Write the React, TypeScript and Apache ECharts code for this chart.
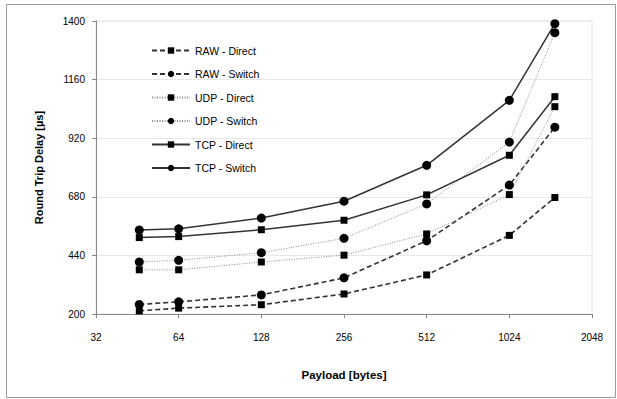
import React, { useEffect, useRef } from "react";
import * as echarts from "echarts";

const payloads = [46, 64, 128, 256, 512, 1024, 1500];
const rawDirect = [213, 224, 238, 282, 360, 522, 677];
const rawSwitch = [239, 250, 278, 348, 500, 728, 965];
const udpDirect = [381, 381, 413, 441, 528, 689, 1049];
const udpSwitch = [413, 420, 451, 510, 651, 904, 1352];
const tcpDirect = [513, 517, 545, 584, 688, 850, 1090];
const tcpSwitch = [544, 549, 593, 662, 809, 1075, 1389];

const seriesNames = [
  "RAW - Direct",
  "RAW - Switch",
  "UDP - Direct",
  "UDP - Switch",
  "TCP - Direct",
  "TCP - Switch",
];

export default function App() {
  const ref = useRef<HTMLDivElement>(null);
  useEffect(() => {
    if (!ref.current) return;
    const chart = echarts.init(ref.current, null, { renderer: "svg" });
    const pair = (ys: number[]) => payloads.map((x, i) => [x, ys[i]]);
    const dashed = { color: "#333", width: 1.6, type: [5, 3] as any };
    const dotted = { color: "#8a8a8a", width: 1, type: [1, 1.5] as any };
    const solid = { color: "#333", width: 1.5, type: "solid" as any };
    const mk = (name: string, ys: number[], ls: any, sym: string) => ({
      name,
      type: "line",
      data: pair(ys),
      symbol: sym,
      symbolSize: sym === "rect" ? 7 : 9,
      lineStyle: ls,
      itemStyle: { color: "#000", borderWidth: 0 },
      emphasis: { disabled: true },
      z: 3,
    });
    chart.setOption({
      animation: false,
      textStyle: { fontFamily: "Liberation Sans, Arial, sans-serif" },
      graphic: [
        {
          type: "rect",
          shape: { x: 6.5, y: 4.5, width: 609, height: 393 },
          style: { fill: "none", stroke: "#9a9a9a", lineWidth: 1 },
          silent: true,
        },
      ],
      grid: {
        left: 96,
        right: 25,
        top: 21,
        bottom: 85,
        show: true,
        borderColor: "#e4e4e4",
        borderWidth: 1,
        outerBoundsMode: "none",
      },
      legend: {
        orient: "vertical",
        left: 146,
        top: 39,
        itemWidth: 38,
        itemHeight: 8,
        itemGap: 10.5,
        itemTextGap: 7,
        textStyle: { fontSize: 10.5, color: "#000", lineHeight: 13 },
        data: seriesNames,
      },
      xAxis: {
        type: "log",
        logBase: 2,
        min: 32,
        max: 2048,
        splitNumber: 6,
        name: "Payload [bytes]",
        nameLocation: "middle",
        nameGap: 55,
        nameTextStyle: { fontWeight: "bold", fontSize: 11.5, color: "#000" },
        axisLine: { lineStyle: { color: "#888", width: 1 } },
        axisTick: { show: true, length: 4, lineStyle: { color: "#888" } },
        axisLabel: {
          fontSize: 10,
          color: "#000",
          margin: 18,
          formatter: (v: number) => String(Math.round(v)),
        },
        splitLine: { show: false },
        minorTick: { show: false },
      },
      yAxis: {
        type: "value",
        min: 200,
        max: 1400,
        interval: 240,
        name: "Round Trip Delay [µs]",
        nameLocation: "middle",
        nameGap: 52,
        nameTextStyle: { fontWeight: "bold", fontSize: 11, color: "#000" },
        axisLine: { show: true, lineStyle: { color: "#888", width: 1 } },
        axisTick: { show: true, length: 4, lineStyle: { color: "#888" } },
        axisLabel: {
          fontSize: 10,
          color: "#000",
          margin: 11,
          formatter: (v: number) => String(v),
        },
        splitLine: { show: true, lineStyle: { color: "#e8e8e8", width: 1 } },
      },
      series: [
        mk(seriesNames[0], rawDirect, dashed, "rect"),
        mk(seriesNames[1], rawSwitch, dashed, "circle"),
        mk(seriesNames[2], udpDirect, dotted, "rect"),
        mk(seriesNames[3], udpSwitch, dotted, "circle"),
        mk(seriesNames[4], tcpDirect, solid, "rect"),
        mk(seriesNames[5], tcpSwitch, solid, "circle"),
      ],
    });
    return () => chart.dispose();
  }, []);
  return (
    <div
      ref={ref}
      style={{ position: "absolute", left: 0, top: 0, width: 617, height: 399 }}
    />
  );
}
